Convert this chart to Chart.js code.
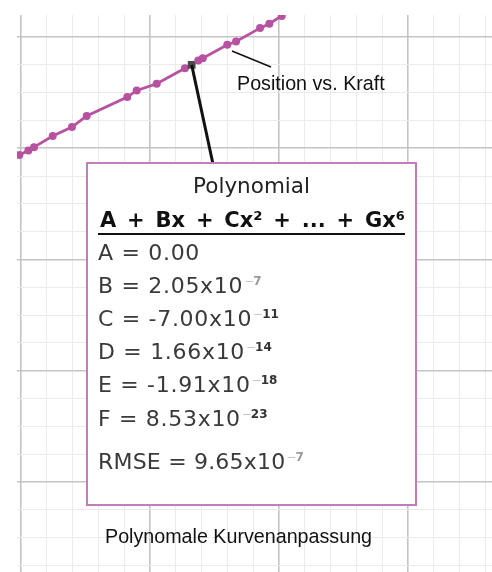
<!DOCTYPE html>
<html lang="de">
<head>
<meta charset="utf-8">
<title>Polynomale Kurvenanpassung</title>
<script src="https://cdn.jsdelivr.net/npm/chart.js@4.4.1/dist/chart.umd.min.js"></script>
<style>
  html, body { margin: 0; padding: 0; background: #fff; }
  #wrap { position: relative; width: 492px; height: 572px; }
</style>
</head>
<body>
<div id="wrap"><canvas id="c" width="492" height="572"></canvas></div>
<script>
"use strict";

// Messpunkte: Kraft (x) und Position (y)
const KRAFT = [-0.13, 0.57, 1.01, 2.46, 3.95, 5.09, 8.24, 8.97, 10.52, 12.71, 13.23, 13.74,
  14.09, 15.99, 16.67, 18.53, 19.25, 20.21, 21.11];
const POSITION = [2.94, 2.98, 3.01, 3.11, 3.19, 3.29, 3.46, 3.52, 3.58, 3.72, 3.75, 3.79,
  3.81, 3.93, 3.96, 4.08, 4.12, 4.19, 4.25];
const MARKED = 10; // Punkt mit dem Callout zur Fit-Box

// Achsenbereich und Raster (Haupt- und Nebenlinien)
const X_MIN = -0.31, X_MAX = 36.51, X_MINOR = 2, X_MAJOR = 10;
const Y_MIN = -0.81, Y_MAX = 4.198, Y_MINOR = 0.25, Y_MAJOR = 1;

// Fit-Ergebnis
const FIT_TITLE = "Polynomial";
const FIT_FORMULA = "A + Bx + Cx² + ... + Gx⁶";
const COEF_NAMES = ["A", "B", "C", "D", "E", "F"];
const COEF_VALUES = ["0.00", "2.05x10", "-7.00x10", "1.66x10", "-1.91x10", "8.53x10"];
const COEF_EXPS = ["", "-7", "-11", "-14", "-18", "-23"];
const RMSE_VALUE = "9.65x10", RMSE_EXP = "-7";
const SERIES_LABEL = "Position vs. Kraft";
const CAPTION = "Polynomale Kurvenanpassung";

const PURPLE = "#b6529f";
const BOX_BORDER = "#c47cba";
const BOX_FONT = "'DejaVu Sans', Verdana, sans-serif";
const LABEL_FONT = "'Liberation Sans', Arial, sans-serif";

function gridTicks(min, max, step) {
  const out = [];
  for (let k = Math.ceil(min / step - 1e-9); k * step <= max + 1e-9; k++) {
    out.push({ value: +(k * step).toFixed(6) });
  }
  return out;
}
const isMajor = (v, major) => Math.abs(v / major - Math.round(v / major)) < 1e-6;

function axis(min, max, minor, major) {
  return {
    type: "linear", min, max,
    afterBuildTicks: (s) => { s.ticks = gridTicks(min, max, minor); },
    ticks: { display: false },
    border: { display: false },
    grid: {
      drawTicks: false, tickLength: 0,
      color: (c) => isMajor(c.tick.value, major) ? "#c4c4c4" : "#ebebeb",
      lineWidth: (c) => isMajor(c.tick.value, major) ? 1.6 : 1,
    },
  };
}

// Exponent hochgestellt hinter den Text setzen
function drawExp(ctx, exp, x, baseline) {
  let cx = x + 1;
  ctx.letterSpacing = "0px";
  for (const ch of exp) {
    if (ch === "-") {
      ctx.font = `12px ${BOX_FONT}`;
      ctx.fillStyle = "#c4c4c4";
      ctx.fillText("−", cx, baseline - 8);
      cx += ctx.measureText("−").width - 1;
    } else {
      ctx.font = `bold 12px ${BOX_FONT}`;
      ctx.fillStyle = exp.length === 2 ? "#9a9a9a" : "#333";
      ctx.fillText(ch, cx, baseline - 8);
      cx += ctx.measureText(ch).width;
    }
  }
}

const annotations = {
  id: "annotations",
  afterDatasetsDraw(chart) {
    const ctx = chart.ctx;
    const pt = chart.getDatasetMeta(0).data[MARKED];
    ctx.save();
    ctx.textBaseline = "alphabetic";

    // Callout vom markierten Punkt zur Box
    ctx.strokeStyle = "#111";
    ctx.lineWidth = 3;
    ctx.beginPath(); ctx.moveTo(pt.x, pt.y); ctx.lineTo(213, 164); ctx.stroke();

    // Serienbeschriftung
    ctx.lineWidth = 1.5;
    ctx.beginPath(); ctx.moveTo(232, 51); ctx.lineTo(271, 67); ctx.stroke();
    ctx.fillStyle = "#111";
    ctx.font = `19.7px ${LABEL_FONT}`;
    ctx.fillText(SERIES_LABEL, 237, 90);

    // Bildunterschrift
    ctx.fillText(CAPTION, 105, 543);

    // Fit-Box
    ctx.fillStyle = "#fff";
    ctx.fillRect(87, 163, 329, 342);
    ctx.strokeStyle = BOX_BORDER;
    ctx.lineWidth = 2;
    ctx.strokeRect(87, 163, 329, 342);

    ctx.fillStyle = "#222";
    ctx.font = `21.5px ${BOX_FONT}`;
    ctx.textAlign = "center";
    ctx.fillText(FIT_TITLE, 251.5, 193);
    ctx.textAlign = "left";

    // Formel über die Breite verteilen
    ctx.font = `bold 21px ${BOX_FONT}`;
    ctx.fillStyle = "#111";
    const words = FIT_FORMULA.split(" ");
    const inkW = words.reduce((s, w) => s + ctx.measureText(w).width, 0);
    const gap = (305 - inkW) / (words.length - 1);
    let fx = 100;
    words.forEach((w) => { ctx.fillText(w, fx, 227); fx += ctx.measureText(w).width + gap; });
    ctx.strokeStyle = "#111";
    ctx.lineWidth = 2;
    ctx.beginPath(); ctx.moveTo(98, 234); ctx.lineTo(405, 234); ctx.stroke();

    // Koeffizienten
    const line = (txt, exp, y, spacing) => {
      ctx.font = `22px ${BOX_FONT}`;
      ctx.letterSpacing = spacing;
      ctx.fillStyle = "#3a3a3a";
      ctx.fillText(txt, 98, y);
      const w = ctx.measureText(txt).width;
      if (exp) drawExp(ctx, exp, 98 + w, y);
    };
    COEF_NAMES.forEach((n, i) => line(`${n} = ${COEF_VALUES[i]}`, COEF_EXPS[i], 260 + i * 33.1, "0.7px"));
    line(`RMSE = ${RMSE_VALUE}`, RMSE_EXP, 469, "0.2px");
    ctx.restore();
  },
};

new Chart(document.getElementById("c"), {
  type: "line",
  data: {
    datasets: [{
      label: SERIES_LABEL,
      data: KRAFT.map((x, i) => ({ x, y: POSITION[i] })),
      borderColor: PURPLE,
      backgroundColor: PURPLE,
      borderWidth: 2.8,
      tension: 0,
      clip: 0,
      pointStyle: (c) => c.dataIndex === MARKED ? "rect" : "circle",
      pointRadius: (c) => c.dataIndex === MARKED ? 5.5 : 4,
      pointBackgroundColor: (c) => c.dataIndex === MARKED ? "#4a4a4a" : PURPLE,
      pointBorderWidth: 0,
    }],
  },
  options: {
    responsive: false,
    devicePixelRatio: 1,
    animation: false,
    events: [],
    layout: { autoPadding: false, padding: { left: 17, top: 15, right: 0, bottom: 0 } },
    plugins: { legend: { display: false }, tooltip: { enabled: false } },
    scales: {
      x: axis(X_MIN, X_MAX, X_MINOR, X_MAJOR),
      y: axis(Y_MIN, Y_MAX, Y_MINOR, Y_MAJOR),
    },
  },
  plugins: [annotations],
});
</script>
</body>
</html>
